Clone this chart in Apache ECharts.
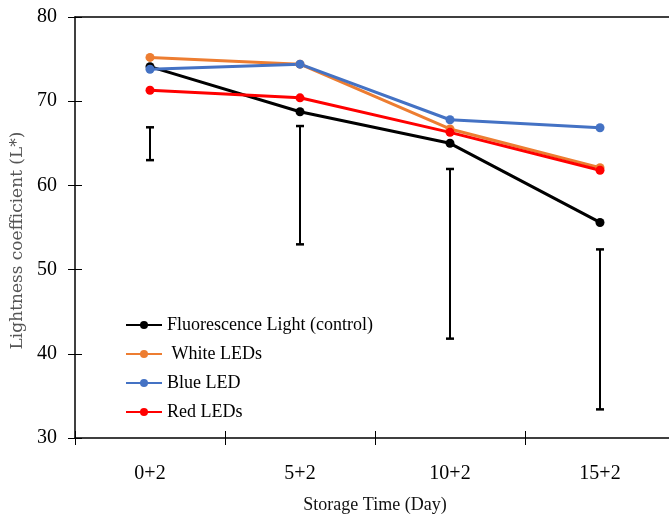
<!DOCTYPE html>
<html>
<head>
<meta charset="utf-8">
<script src="https://cdn.jsdelivr.net/npm/echarts@6/dist/echarts.min.js"></script>
<style>
html,body{margin:0;padding:0;background:#fff;}
#chart{width:669px;height:522px;}
</style>
</head>
<body>
<div id="chart"></div>
<script>
var categories = ['0+2', '5+2', '10+2', '15+2'];
var fluorescence = [74.1, 68.75, 65.0, 55.6];
var whiteLEDs = [75.2, 74.4, 66.7, 62.1];
var blueLED = [73.8, 74.4, 67.8, 66.85];
var redLEDs = [71.3, 70.4, 66.3, 61.8];
var errLow = [63.0, 53.0, 41.8, 33.4];
var errHigh = [66.9, 67.05, 61.95, 52.4];
var seriesNames = ['Fluorescence Light (control)', ' White LEDs', 'Blue LED', 'Red LEDs'];
var yTicks = [30, 40, 50, 60, 70, 80];

var serif = 'Liberation Serif';
var errData = categories.map(function (c, i) { return [i, errLow[i], errHigh[i]]; });

function lineSeries(name, data, color) {
  return {
    name: name, type: 'line', data: data,
    symbol: 'circle', symbolSize: 9,
    lineStyle: { width: 3, color: color },
    itemStyle: { color: color },
    z: 3
  };
}

var chart = echarts.init(document.getElementById('chart'));
chart.setOption({
  animation: false,
  backgroundColor: '#fff',
  grid: { left: 75, top: 17, width: 600, height: 421, containLabel: false, outerBoundsMode: 'none' },
  legend: {
    orient: 'vertical', left: 120, top: 311,
    data: seriesNames,
    itemWidth: 36, itemHeight: 10, itemGap: 11,
    textStyle: { fontFamily: serif, fontSize: 18, color: '#000' }
  },
  xAxis: [{
    type: 'category', data: categories, boundaryGap: true, position: 'bottom',
    axisLine: { lineStyle: { color: '#000', width: 1.5 } },
    axisTick: { show: true, length: 7, inside: false, lineStyle: { color: '#000', width: 1 } },
    axisLabel: { fontFamily: serif, fontSize: 20, color: '#000', margin: 26 },
    name: 'Storage Time (Day)', nameLocation: 'middle', nameGap: 58,
    nameTextStyle: { fontFamily: serif, fontSize: 18, color: '#111' }
  }, {
    type: 'category', data: categories, boundaryGap: true, position: 'bottom',
    axisLine: { show: false },
    axisTick: { show: true, length: 7, inside: true, lineStyle: { color: '#000', width: 1 } },
    axisLabel: { show: false }
  }, {
    type: 'category', data: categories, position: 'top',
    axisLine: { show: true, lineStyle: { color: '#000', width: 1.5 } },
    axisTick: { show: false }, axisLabel: { show: false }
  }],
  yAxis: [{
    type: 'value', min: yTicks[0], max: yTicks[yTicks.length - 1], interval: 10,
    axisLine: { show: true, lineStyle: { color: '#000', width: 1.5 } },
    axisTick: { show: true, length: 7, lineStyle: { color: '#000', width: 1 } },
    splitLine: { show: false },
    axisLabel: { fontFamily: serif, fontSize: 20, color: '#000', margin: 18 },
    name: 'Lightness coefficient (L*)', nameLocation: 'middle', nameGap: 48,
    nameTextStyle: { fontFamily: 'DejaVu Serif', fontSize: 17, color: '#555', padding: [0, 26, 0, 0] }
  }, {
    type: 'value', min: yTicks[0], max: yTicks[yTicks.length - 1], interval: 10, position: 'left',
    axisLine: { show: false },
    axisTick: { show: true, inside: true, length: 7, lineStyle: { color: '#000', width: 1 } },
    splitLine: { show: false }, axisLabel: { show: false }
  }],
  series: [
    lineSeries(seriesNames[0], fluorescence, '#000000'),
    lineSeries(seriesNames[1], whiteLEDs, '#ED7D31'),
    lineSeries(seriesNames[2], blueLED, '#4472C4'),
    lineSeries(seriesNames[3], redLEDs, '#FF0000'),
    {
      name: 'err', type: 'custom', data: errData, z: 2,
      renderItem: function (params, api) {
        var x = api.value(0);
        var lo = api.coord([x, api.value(1)]);
        var hi = api.coord([x, api.value(2)]);
        var w = 4;
        var st = { stroke: '#000', lineWidth: 2 };
        return {
          type: 'group',
          children: [
            { type: 'line', shape: { x1: lo[0], y1: lo[1], x2: hi[0], y2: hi[1] }, style: st },
            { type: 'line', shape: { x1: lo[0] - w, y1: lo[1], x2: lo[0] + w, y2: lo[1] }, style: { stroke: '#000', lineWidth: 2.5 } },
            { type: 'line', shape: { x1: hi[0] - w, y1: hi[1], x2: hi[0] + w, y2: hi[1] }, style: { stroke: '#000', lineWidth: 2.5 } }
          ]
        };
      }
    }
  ]
});
</script>
</body>
</html>
